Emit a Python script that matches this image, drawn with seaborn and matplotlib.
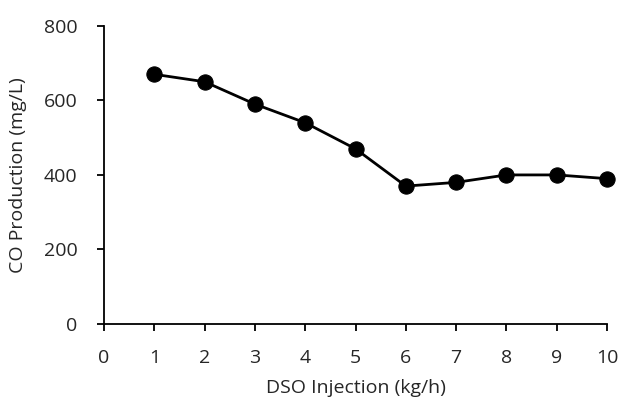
import matplotlib
matplotlib.use("Agg")
import matplotlib.pyplot as plt
import seaborn as sns
import pandas as pd

dso_injection = [1, 2, 3, 4, 5, 6, 7, 8, 9, 10]
co_production = [670, 650, 590, 540, 470, 370, 380, 400, 400, 390]

df = pd.DataFrame({"DSO Injection (kg/h)": dso_injection,
                   "CO Production (mg/L)": co_production})

sns.set_style("ticks")
plt.rcParams["font.family"] = ["Open Sans", "DejaVu Sans"]

fig = plt.figure(figsize=(6.21, 3.98), dpi=100)
ax = fig.add_axes([0.1675, 0.186, 0.81, 0.749])

sns.lineplot(data=df, x="DSO Injection (kg/h)", y="CO Production (mg/L)",
             color="black", linewidth=2, marker="o", markersize=11,
             markeredgecolor="black", ax=ax)
for artist in ax.lines:
    artist.set_clip_on(False)

ax.set_xlim(0, 10)
ax.set_ylim(0, 800)
ax.set_xticks(range(0, 11))
ax.set_yticks(range(0, 801, 200))
ax.tick_params(labelsize=14, length=5, width=1.3, color="black")
ax.tick_params(axis="x", pad=13)
ax.tick_params(axis="y", pad=14)
ax.set_xlabel("DSO Injection (kg/h)", fontsize=14, labelpad=9)
ax.set_ylabel("CO Production (mg/L)", fontsize=14, labelpad=12)
for s in ["top", "right"]:
    ax.spines[s].set_visible(False)
for s in ["left", "bottom"]:
    ax.spines[s].set_linewidth(1.3)
    ax.spines[s].set_color("black")

fig.savefig("out.png", dpi=100)
